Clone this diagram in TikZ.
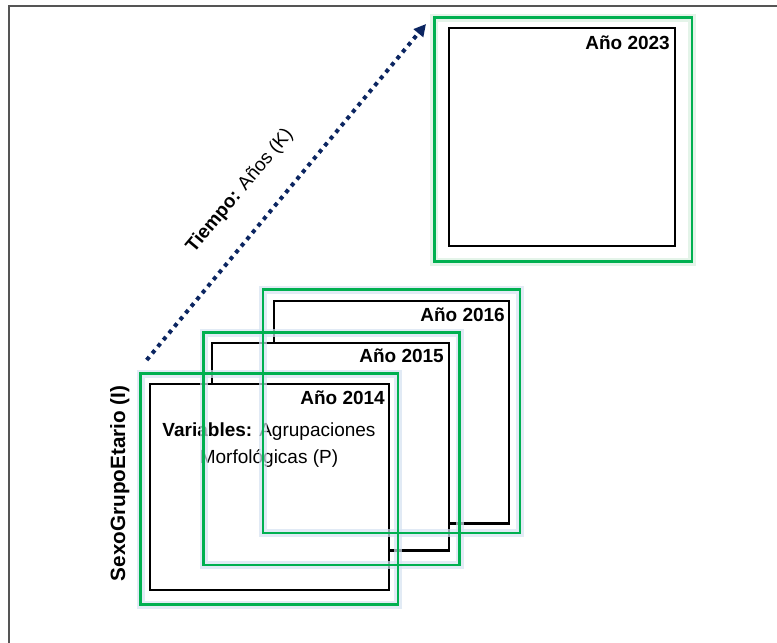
\documentclass[tikz,border=0pt]{standalone}
\usepackage{fontspec}
\setmainfont{Liberation Sans}
\usetikzlibrary{arrows.meta}
\definecolor{gframe}{HTML}{00B050}
\definecolor{glowblue}{HTML}{D5E2F1}
\definecolor{glowgreen}{HTML}{D8F0DF}
\definecolor{navy}{HTML}{0B2561}
\definecolor{border}{HTML}{555555}
\tikzset{
  blackbox/.style={draw=black, fill=white, line width=2.5pt, inner sep=0pt},
  greenbox/.style={draw=gframe, line width=2.4pt, inner sep=0pt},
  glowbox/.style={draw=#1, line width=8pt, inner sep=0pt, draw opacity=0.7},
  yearlbl/.style={anchor=base east, inner sep=0pt, font=\fontsize{19}{22}\selectfont\bfseries},
  txt/.style={anchor=base, inner sep=0pt, font=\fontsize{19}{22}\selectfont},
}
\begin{document}
\begin{tikzpicture}[x=1pt, y=-1pt]
\useasboundingbox (0,0) rectangle (777,643);
% outer frame
\coordinate (f1) at (9,643);
\coordinate (f2) at (9,6);
\coordinate (f3) at (777,6);
\draw[border, line width=1.5pt] (f1) -- (f2) -- (f3);
% black boxes (back to front)
\node[blackbox, minimum width=226pt, minimum height=218pt] (b23) at (562,137) {};
\node[yearlbl] (l23) at (670,49) {Año 2023};
\node[blackbox, minimum width=235pt, minimum height=222.5pt] (b16) at (391.5,412.25) {};
\node[yearlbl] (l16) at (505,321) {Año 2016};
\node[blackbox, minimum width=237pt, minimum height=207.5pt] (b15) at (330.5,446.75) {};
\node[yearlbl] (l15) at (444,362) {Año 2015};
\node[blackbox, minimum width=239pt, minimum height=206pt] (b14) at (269.5,487) {};
\node[yearlbl] (l14) at (385,404) {Año 2014};
\node[txt] (v1) at (269,436.7) {\textbf{Variables:} Agrupaciones};
\node[txt] (v2) at (269,463.5) {Morfológicas (P)};
% glows
\node[glowbox=glowgreen, minimum width=257.4pt, minimum height=244pt] at (563,139.5) {};
\node[glowbox=glowblue, minimum width=257pt, minimum height=243.5pt] at (391.5,411.25) {};
\node[glowbox=glowblue, minimum width=256pt, minimum height=232.5pt] at (331.5,448.75) {};
\node[glowbox=glowblue, minimum width=257.5pt, minimum height=231pt] at (269.25,489) {};
% green frames
\node[greenbox, minimum width=257.4pt, minimum height=244pt] (g23) at (563,139.5) {};
\node[greenbox, minimum width=257pt, minimum height=243.5pt] (g16) at (391.5,411.25) {};
\node[greenbox, minimum width=256pt, minimum height=232.5pt] (g15) at (331.5,448.75) {};
\node[greenbox, minimum width=257.5pt, minimum height=231pt] (g14) at (269.25,489) {};
% time arrow
\coordinate (a0) at (146.7,360);
\coordinate (a1) at (426,24);
\draw[navy, line width=4pt, dash pattern=on 4pt off 4.7pt,
      -{Triangle[length=12pt,width=12pt]}] (a0) -- (a1);
\node[inner sep=0pt, rotate=50, font=\fontsize{19}{22}\selectfont] (tl) at (240,191) {\textbf{Tiempo:} Años (K)};
% vertical axis label
\node[inner sep=0pt, anchor=base, rotate=90, font=\fontsize{20.7}{24}\selectfont\bfseries] (sl) at (125,483.5) {SexoGrupoEtario (I)};
\end{tikzpicture}
\end{document}
